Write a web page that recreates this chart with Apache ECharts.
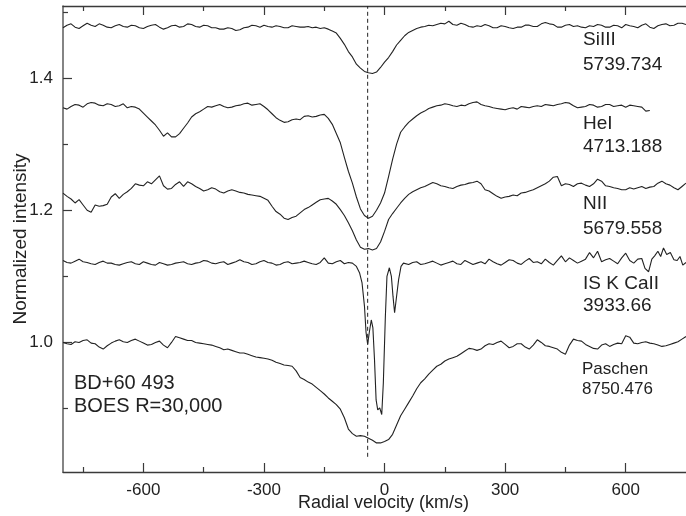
<!DOCTYPE html>
<html>
<head>
<meta charset="utf-8">
<script src="https://cdn.jsdelivr.net/npm/echarts/dist/echarts.min.js"></script>
<style>
  html, body { margin: 0; padding: 0; background: #fff; }
  #chart { width: 686px; height: 516px; }
</style>
</head>
<body>
<div id="chart"></div>
<script>
// radial velocity grid (km/s), 10 km/s steps, shared by the profiles below
const velGrid = [
  -800, -790, -780, -770, -760, -750, -740, -730, -720, -710,
  -700, -690, -680, -670, -660, -650, -640, -630, -620, -610,
  -600, -590, -580, -570, -560, -550, -540, -530, -520, -510,
  -500, -490, -480, -470, -460, -450, -440, -430, -420, -410,
  -400, -390, -380, -370, -360, -350, -340, -330, -320, -310,
  -300, -290, -280, -270, -260, -250, -240, -230, -220, -210,
  -200, -190, -180, -170, -160, -150, -140, -130, -120, -110,
  -100, -90, -80, -70, -60, -50, -40, -30, -20, -10,
  0, 10, 20, 30, 40, 50, 60, 70, 80, 90,
  100, 110, 120, 130, 140, 150, 160, 170, 180, 190,
  200, 210, 220, 230, 240, 250, 260, 270, 280, 290,
  300, 310, 320, 330, 340, 350, 360, 370, 380, 390,
  400, 410, 420, 430, 440, 450, 460, 470, 480, 490,
  500, 510, 520, 530, 540, 550, 560, 570, 580, 590,
  600, 610, 620, 630, 640, 650, 660, 670, 680, 690,
  700, 710, 720, 730, 740, 750
];

const siIII = [
  1.476, 1.480, 1.482, 1.477, 1.475, 1.479, 1.483, 1.480, 1.478, 1.482,
  1.480, 1.477, 1.476, 1.479, 1.481, 1.478, 1.477, 1.480, 1.479, 1.476,
  1.475, 1.478, 1.480, 1.481, 1.477, 1.474, 1.476, 1.479, 1.480, 1.477,
  1.478, 1.482, 1.481, 1.478, 1.477, 1.480, 1.479, 1.476, 1.476, 1.474,
  1.474, 1.476, 1.475, 1.472, 1.473, 1.476, 1.477, 1.480, 1.479, 1.477,
  1.480, 1.478, 1.477, 1.479, 1.478, 1.476, 1.476, 1.479, 1.478, 1.477,
  1.477, 1.478, 1.476, 1.477, 1.475, 1.476, 1.474, 1.471, 1.468, 1.460,
  1.451, 1.440, 1.432, 1.421, 1.415, 1.410, 1.408, 1.407, 1.409, 1.416,
  1.424, 1.431, 1.440, 1.450, 1.457, 1.464, 1.469, 1.472, 1.475, 1.477,
  1.478, 1.480, 1.479, 1.481, 1.483, 1.482, 1.486, 1.481, 1.480, 1.483,
  1.481, 1.478, 1.477, 1.479, 1.478, 1.481, 1.479, 1.476, 1.476, 1.479,
  1.478, 1.476, 1.475, 1.477, 1.477, 1.480, 1.480, 1.478, 1.478, 1.482,
  1.484, 1.482, 1.481, 1.477, 1.477, 1.480, 1.481, 1.478, 1.479, 1.477,
  1.476, 1.479, 1.478, 1.481, 1.480, 1.477, 1.477, 1.480, 1.479, 1.476,
  1.481, 1.479, 1.478, 1.476, 1.480, 1.482, 1.477, 1.475, 1.479, 1.481,
  1.482, 1.479, 1.480, 1.483, 1.483, 1.481
];

// HeI stops at +660 km/s
const heI = [
  1.355, 1.353, 1.357, 1.360, 1.359, 1.356, 1.361, 1.363, 1.362, 1.359,
  1.358, 1.361, 1.360, 1.357, 1.358, 1.361, 1.355, 1.357, 1.356, 1.353,
  1.347, 1.341, 1.335, 1.329, 1.321, 1.312, 1.317, 1.311, 1.311, 1.316,
  1.324, 1.332, 1.341, 1.346, 1.349, 1.353, 1.357, 1.356, 1.358, 1.360,
  1.357, 1.355, 1.356, 1.358, 1.359, 1.361, 1.362, 1.359, 1.360, 1.361,
  1.357, 1.352, 1.346, 1.340, 1.336, 1.333, 1.334, 1.337, 1.338, 1.337,
  1.342, 1.343, 1.341, 1.342, 1.344, 1.345, 1.339, 1.330, 1.316, 1.302,
  1.280, 1.259, 1.241, 1.220, 1.202, 1.192, 1.188, 1.191, 1.200, 1.211,
  1.226, 1.251, 1.277, 1.300, 1.318, 1.326, 1.333, 1.338, 1.343, 1.347,
  1.350, 1.354, 1.356, 1.358, 1.359, 1.361, 1.360, 1.358, 1.357, 1.359,
  1.358, 1.361, 1.363, 1.364, 1.360, 1.358, 1.357, 1.355, 1.354, 1.353,
  1.352, 1.354, 1.355, 1.353, 1.357, 1.356, 1.355, 1.357, 1.358, 1.357,
  1.360, 1.359, 1.358, 1.360, 1.361, 1.363, 1.362, 1.358, 1.355, 1.356,
  1.357, 1.360, 1.359, 1.356, 1.357, 1.360, 1.360, 1.357, 1.358, 1.359,
  1.356, 1.359, 1.358, 1.357, 1.356, 1.350, 1.351
];

const nII = [
  1.226, 1.221, 1.217, 1.211, 1.216, 1.208, 1.200, 1.197, 1.208, 1.206,
  1.207, 1.209, 1.220, 1.225, 1.218, 1.224, 1.228, 1.233, 1.240, 1.238,
  1.237, 1.243, 1.240, 1.246, 1.252, 1.237, 1.232, 1.233, 1.239, 1.243,
  1.236, 1.243, 1.240, 1.236, 1.233, 1.229, 1.231, 1.234, 1.232, 1.228,
  1.226, 1.229, 1.231, 1.229, 1.227, 1.226, 1.224, 1.223, 1.222, 1.221,
  1.218, 1.215, 1.206, 1.198, 1.194, 1.188, 1.186, 1.189, 1.191, 1.196,
  1.201, 1.204, 1.208, 1.212, 1.216, 1.217, 1.218, 1.214, 1.209, 1.201,
  1.192, 1.181, 1.169, 1.155, 1.144, 1.141, 1.142, 1.140, 1.142, 1.152,
  1.168, 1.186, 1.195, 1.203, 1.211, 1.218, 1.224, 1.228, 1.231, 1.234,
  1.236, 1.239, 1.242, 1.240, 1.237, 1.236, 1.234, 1.233, 1.236, 1.238,
  1.239, 1.241, 1.242, 1.244, 1.240, 1.231, 1.229, 1.225, 1.221, 1.218,
  1.220, 1.221, 1.223, 1.222, 1.226, 1.227, 1.229, 1.231, 1.234, 1.237,
  1.240, 1.244, 1.250, 1.251, 1.237, 1.240, 1.239, 1.236, 1.240, 1.241,
  1.238, 1.236, 1.240, 1.247, 1.244, 1.237, 1.236, 1.234, 1.233, 1.231,
  1.231, 1.234, 1.232, 1.234, 1.236, 1.233, 1.235, 1.236, 1.241, 1.244,
  1.240, 1.238, 1.234, 1.231, 1.236, 1.241
];

const paschen = [
  1.000, 0.998, 0.997, 1.001, 1.000, 1.003, 1.004, 0.999, 0.998, 0.993,
  0.990, 0.995, 0.999, 1.002, 1.004, 1.001, 1.000, 1.003, 1.005, 1.002,
  0.999, 0.996, 0.997, 1.000, 1.002, 0.996, 0.992, 1.000, 1.009, 1.007,
  1.005, 1.003, 1.003, 1.000, 0.999, 0.998, 0.997, 0.996, 0.994, 0.992,
  0.989, 0.990, 0.988, 0.986, 0.984, 0.984, 0.982, 0.980, 0.978, 0.977,
  0.976, 0.975, 0.973, 0.970, 0.968, 0.966, 0.965, 0.964, 0.957, 0.947,
  0.944, 0.940, 0.937, 0.932, 0.927, 0.922, 0.916, 0.911, 0.906, 0.899,
  0.886, 0.869, 0.862, 0.858, 0.859, 0.858, 0.855, 0.852, 0.848, 0.848,
  0.850, 0.853, 0.861, 0.875, 0.889, 0.899, 0.909, 0.919, 0.930, 0.939,
  0.945, 0.952, 0.958, 0.964, 0.967, 0.972, 0.975, 0.977, 0.979, 0.983,
  0.987, 0.991, 0.990, 0.988, 0.990, 0.995, 0.998, 0.997, 1.000, 1.002,
  0.997, 0.992, 0.994, 0.998, 0.998, 0.993, 0.990, 0.996, 1.004, 1.000,
  0.995, 0.994, 0.992, 0.990, 0.985, 0.982, 0.996, 1.005, 1.003, 1.002,
  0.997, 0.994, 0.991, 0.990, 0.996, 0.998, 0.994, 0.997, 0.999, 0.998,
  1.010, 1.008, 0.999, 0.998, 1.000, 1.001, 0.999, 0.998, 0.996, 0.994,
  0.995, 0.997, 0.999, 1.001, 1.005, 1.009
];

// IS K CaII is sampled finer around the sharp interstellar components: [velocity, intensity]
const caII = [
  [-800, 1.124], [-790, 1.121], [-780, 1.120], [-770, 1.123], [-760, 1.126],
  [-750, 1.122], [-740, 1.121], [-730, 1.119], [-720, 1.118], [-710, 1.121],
  [-700, 1.123], [-690, 1.120], [-680, 1.120], [-670, 1.118], [-660, 1.117],
  [-650, 1.119], [-640, 1.121], [-630, 1.122], [-620, 1.119], [-610, 1.118],
  [-600, 1.122], [-590, 1.120], [-580, 1.118], [-570, 1.117], [-560, 1.121],
  [-550, 1.119], [-540, 1.117], [-530, 1.118], [-520, 1.120], [-510, 1.121],
  [-500, 1.122], [-490, 1.119], [-480, 1.118], [-470, 1.120], [-460, 1.121],
  [-450, 1.124], [-440, 1.123], [-430, 1.120], [-420, 1.119], [-410, 1.121],
  [-400, 1.122], [-390, 1.118], [-380, 1.120], [-370, 1.122], [-360, 1.125],
  [-350, 1.122], [-340, 1.121], [-330, 1.118], [-320, 1.119], [-310, 1.122],
  [-300, 1.124], [-290, 1.121], [-280, 1.120], [-270, 1.117], [-260, 1.118],
  [-250, 1.121], [-240, 1.122], [-230, 1.119], [-220, 1.120], [-210, 1.121],
  [-200, 1.123], [-190, 1.121], [-180, 1.119], [-170, 1.118], [-160, 1.121],
  [-150, 1.128], [-140, 1.120], [-130, 1.119], [-120, 1.122], [-110, 1.124],
  [-100, 1.119], [-90, 1.121], [-80, 1.120], [-70, 1.115], [-62, 1.105],
  [-56, 1.090], [-50, 1.055], [-46, 1.015], [-42, 0.997], [-38, 1.015],
  [-33, 1.034], [-29, 1.022], [-25, 0.974], [-21, 0.913], [-17, 0.898],
  [-12, 0.901], [-7, 0.891], [-3, 0.939], [2, 1.039], [6, 1.100],
  [12, 1.113], [17, 1.100], [21, 1.070], [25, 1.045], [29, 1.065],
  [35, 1.095], [41, 1.115], [47, 1.120], [60, 1.118], [70, 1.121],
  [80, 1.122], [90, 1.118], [100, 1.119], [110, 1.121], [120, 1.123],
  [130, 1.120], [140, 1.117], [150, 1.119], [160, 1.121], [170, 1.123],
  [180, 1.119], [190, 1.118], [200, 1.124], [210, 1.121], [220, 1.118],
  [230, 1.120], [240, 1.122], [250, 1.119], [260, 1.126], [270, 1.122],
  [280, 1.119], [290, 1.117], [300, 1.121], [310, 1.125], [320, 1.124],
  [330, 1.120], [340, 1.118], [350, 1.123], [360, 1.127], [370, 1.121],
  [380, 1.122], [390, 1.119], [400, 1.126], [410, 1.121], [420, 1.117],
  [430, 1.124], [440, 1.131], [450, 1.122], [460, 1.128], [470, 1.124],
  [480, 1.120], [490, 1.123], [500, 1.126], [510, 1.136], [520, 1.128],
  [530, 1.138], [540, 1.122], [550, 1.125], [560, 1.127], [570, 1.123],
  [580, 1.119], [590, 1.128], [600, 1.135], [610, 1.124], [620, 1.120],
  [630, 1.126], [640, 1.127], [648, 1.112], [657, 1.107], [665, 1.126],
  [672, 1.131], [680, 1.138], [687, 1.130], [694, 1.143], [702, 1.133],
  [711, 1.136], [720, 1.125], [728, 1.124], [735, 1.130], [742, 1.117],
  [750, 1.121]
];

// vertical reference line (systemic velocity)
const refVel = -42;
const refSpan = [0.827, 1.509];

const xMajor = [-600, -300, 0, 300, 600];
const xMinor = [-750, -450, -150, 150, 450];
const yMajor = [1.0, 1.2, 1.4];
const yMinor = [0.9, 1.1, 1.3, 1.5];

const FONT = '"Liberation Sans", Arial, Helvetica, sans-serif';
const INK = '#222';
const AXIS = '#3a3a3a';

const chart = echarts.init(document.getElementById('chart'));

function xAx(pos, ticks, len, withLabel, showLine) {
  return {
    type: 'value',
    position: pos,
    min: -800,
    max: 750,
    axisLine: { show: showLine, onZero: false, lineStyle: { color: AXIS, width: 1.3 } },
    axisTick: { show: true, inside: true, length: len, customValues: ticks, lineStyle: { color: AXIS, width: 1.2 } },
    axisLabel: withLabel ? {
      show: true, customValues: ticks, margin: 10,
      color: INK, fontSize: 17, fontFamily: FONT
    } : { show: false },
    splitLine: { show: false }
  };
}

function yAx(ticks, len, withLabel, showLine) {
  return {
    type: 'value',
    position: 'left',
    min: 0.804,
    max: 1.509,
    axisLine: { show: showLine, onZero: false, lineStyle: { color: '#666', width: 1.6 } },
    axisTick: { show: true, inside: true, length: len, customValues: ticks, lineStyle: { color: AXIS, width: 1.2 } },
    axisLabel: withLabel ? {
      show: true, customValues: ticks, margin: 10,
      color: INK, fontSize: 17, fontFamily: FONT,
      formatter: v => v.toFixed(1)
    } : { show: false },
    splitLine: { show: false }
  };
}

const bottomMajor = xAx('bottom', xMajor, 9, true, true);
bottomMajor.name = 'Radial velocity (km/s)';
bottomMajor.nameLocation = 'middle';
bottomMajor.nameGap = 22;
bottomMajor.nameMoveOverlap = false;
bottomMajor.nameTextStyle = { color: INK, fontSize: 18, fontFamily: FONT, padding: [0, 0, 0, 18] };

const leftMajor = yAx(yMajor, 9, true, true);
leftMajor.name = 'Normalized intensity';
leftMajor.nameLocation = 'middle';
leftMajor.nameGap = 33;
leftMajor.nameMoveOverlap = false;
leftMajor.nameTextStyle = { color: INK, fontSize: 19, fontFamily: FONT };

function spectrum(name, data) {
  return {
    name: name,
    type: 'line',
    xAxisIndex: 0,
    yAxisIndex: 0,
    data: data,
    showSymbol: false,
    symbol: 'none',
    lineStyle: { color: INK, width: 1.1 },
    silent: true,
    z: 3
  };
}

function label(text, x, y, size) {
  return {
    type: 'text', left: x, top: y, silent: true,
    style: { text: text, fill: INK, font: size + 'px ' + FONT }
  };
}

chart.setOption({
  animation: false,
  backgroundColor: '#fff',
  grid: { left: 63, right: 0, top: 6, bottom: 44, containLabel: false, outerBoundsMode: 'none' },
  xAxis: [
    bottomMajor,
    xAx('bottom', xMinor, 5, false, false),
    xAx('top', xMajor, 9, false, true),
    xAx('top', xMinor, 5, false, false)
  ],
  yAxis: [
    leftMajor,
    yAx(yMinor, 5, false, false)
  ],
  series: [
    spectrum('SiIII 5739.734', velGrid.map((v, i) => [v, siIII[i]])),
    spectrum('HeI 4713.188', heI.map((y, i) => [velGrid[i], y])),
    spectrum('NII 5679.558', velGrid.map((v, i) => [v, nII[i]])),
    spectrum('IS K CaII 3933.66', caII),
    spectrum('Paschen 8750.476', velGrid.map((v, i) => [v, paschen[i]])),
    {
      name: 'ref',
      type: 'line',
      data: [[refVel, refSpan[0]], [refVel, refSpan[1]]],
      showSymbol: false,
      symbol: 'none',
      lineStyle: { color: INK, width: 1, type: [4, 3] },
      silent: true,
      z: 2
    }
  ],
  graphic: [
    label('SiIII', 583, 30, 19),
    label('5739.734', 583, 55, 19),
    label('HeI', 583, 114, 19),
    label('4713.188', 583, 137, 19),
    label('NII', 583, 194, 19),
    label('5679.558', 583, 219, 19),
    label('IS K CaII', 583, 274, 19),
    label('3933.66', 583, 296, 19),
    label('Paschen', 582, 361, 17),
    label('8750.476', 582, 381, 17),
    label('BD+60 493', 74, 373, 20),
    label('BOES R=30,000', 74, 396, 20)
  ]
});
</script>
</body>
</html>
